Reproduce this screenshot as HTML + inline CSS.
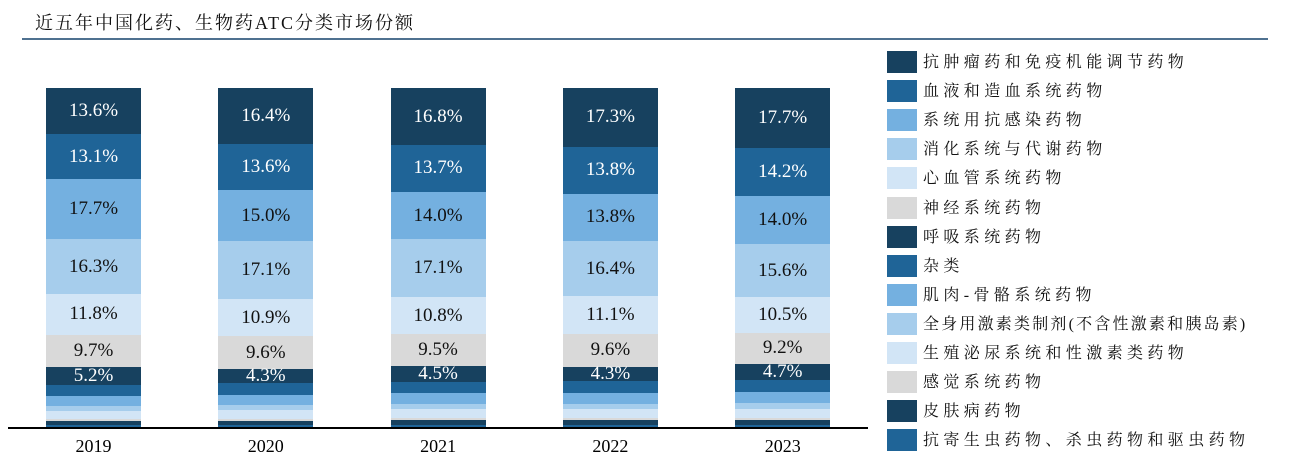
<!DOCTYPE html>
<html><head><meta charset="utf-8"><style>
body{margin:0;width:1292px;height:462px;background:#fff;position:relative;overflow:hidden;font-family:"Liberation Serif","Noto Serif CJK SC",serif}
.t{position:absolute;left:35px;top:9px;font-size:18px;letter-spacing:2px;color:#111}
.hl{position:absolute;left:22px;top:38px;width:1246px;height:2px;background:#4f7190}
.ax{position:absolute;left:8px;top:427px;width:860px;height:1.5px;background:#000}
.seg{position:absolute}
.lb{position:absolute;font-size:19px;text-align:center;width:95px;line-height:20px}
.yr{position:absolute;top:436px;font-size:18px;width:95px;text-align:center}
.lg{position:absolute;left:887px;width:30px;height:22px}
.lt{position:absolute;left:923px;font-size:16px;letter-spacing:4.4px;color:#111;line-height:22px;white-space:nowrap}
</style></head><body>
<div class="t">近五年中国化药、生物药ATC分类市场份额</div>
<div class="hl"></div>
<div id="c"></div>
<div class="ax"></div>
<script>
var C=['#17415f','#1f6497','#74b0e0','#a6cdec','#d2e5f6','#d9d9d9'];
var leg=[['抗肿瘤药和免疫机能调节药物',0],['血液和造血系统药物',1],['系统用抗感染药物',2],['消化系统与代谢药物',3],['心血管系统药物',4],['神经系统药物',5],['呼吸系统药物',0],['杂类',1],['肌肉-骨骼系统药物',2],['全身用激素类制剂(不含性激素和胰岛素)',3],['生殖泌尿系统和性激素类药物',4],['感觉系统药物',5],['皮肤病药物',0],['抗寄生虫药物、杀虫药物和驱虫药物',1]];
var h='';
leg.forEach(function(l,i){var y=51+i*29.1;var ls=(i==9)?'letter-spacing:2.2px;':'';h+='<div class="lg" style="top:'+y+'px;background:'+C[l[1]]+'"></div><div class="lt" style="top:'+(y+1)+'px;'+ls+'">'+l[0]+'</div>';});
var D=[[2019,[13.6,13.1,17.7,16.3,11.8,9.7,5.2]],[2020,[16.4,13.6,15.0,17.1,10.9,9.6,4.3]],[2021,[16.8,13.7,14.0,17.1,10.8,9.5,4.5]],[2022,[17.3,13.8,13.8,16.4,11.1,9.6,4.3]],[2023,[17.7,14.2,14.0,15.6,10.5,9.2,4.7]]];
var small=[3.2,2.9,1.5,2.4,0.6,1.2,0.9];var ss=12.7;
var top0=88,H=340;
D.forEach(function(d,k){var x=46+k*172.3;var v=d[1].slice();var s=v.reduce(function(a,b){return a+b},0);var r=100-s;small.forEach(function(q){v.push(q*r/ss)});
var y=top0;v.forEach(function(p,i){var hh=p*H/100;var col=C[i%6];h+='<div class="seg" style="left:'+x+'px;top:'+y+'px;width:95px;height:'+(hh+0.5)+'px;background:'+col+'"></div>';
if(i<7){var fc=(i%6<2)?'#fff':'#111';h+='<div class="lb" style="left:'+x+'px;top:'+(y+hh/2-10)+'px;color:'+fc+'">'+p.toFixed(1)+'%</div>';}
y+=hh;});
h+='<div class="yr" style="left:'+x+'px">'+d[0]+'</div>';});
document.getElementById('c').innerHTML=h;
</script>
</body></html>
